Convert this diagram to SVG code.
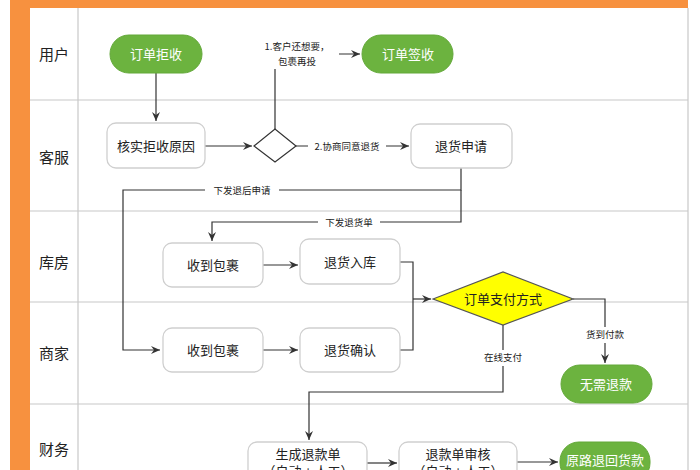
<svg xmlns="http://www.w3.org/2000/svg" width="700" height="470" viewBox="0 0 700 470">
<defs>
<marker id="ah" markerWidth="10" markerHeight="8" refX="9" refY="4" orient="auto" markerUnits="userSpaceOnUse">
<path d="M0,0 L9,4 L0,8 L3,4 Z" fill="#333"/>
</marker>
<style>
.lane{fill:none;stroke:#c8c8c8;stroke-width:1.2}
.lbl{font-family:"Noto Sans CJK SC","Noto Sans",sans-serif;font-size:15px;fill:#222;text-anchor:middle}
.box{fill:#fff;stroke:#cfcfcf;stroke-width:1.3}
.pill{fill:#6cb33f;stroke:#62a838;stroke-width:1}
.t{font-family:"Noto Sans CJK SC","Noto Sans",sans-serif;font-size:13px;fill:#222;text-anchor:middle}
.tw{font-family:"Noto Sans CJK SC","Noto Sans",sans-serif;font-size:13px;fill:#fff;text-anchor:middle}
.el{font-family:"Noto Sans CJK SC","Noto Sans",sans-serif;font-size:9.5px;fill:#222;text-anchor:middle}
.c{fill:none;stroke:#333;stroke-width:1.2}
.bg{fill:#fff}
</style>
</defs>
<rect x="0" y="0" width="700" height="470" fill="#fff"/>
<rect x="10" y="0" width="678" height="8" fill="#f7913f"/>
<rect x="10" y="0" width="20" height="470" fill="#f7913f"/>
<g id="lanes">
<line class="lane" x1="688" y1="8" x2="688" y2="470"/>
<line class="lane" x1="78" y1="8" x2="78" y2="470"/>
<line class="lane" x1="30" y1="100" x2="688" y2="100"/>
<line class="lane" x1="30" y1="211" x2="688" y2="211"/>
<line class="lane" x1="30" y1="302" x2="688" y2="302"/>
<line class="lane" x1="30" y1="404" x2="688" y2="404"/>
<text class="lbl" x="54" y="60">用户</text>
<text class="lbl" x="54" y="163">客服</text>
<text class="lbl" x="54" y="268">库房</text>
<text class="lbl" x="54" y="359">商家</text>
<text class="lbl" x="54" y="455">财务</text>
</g>
<g id="connectors">
<path class="c" d="M156,73 V121" marker-end="url(#ah)"/>
<path class="c" d="M205,146 H252" marker-end="url(#ah)"/>
<path class="c" d="M275,129 V54 H360" marker-end="url(#ah)"/>
<rect class="bg" x="255" y="37" width="84" height="32"/>
<text class="el" x="297" y="50">1.客户还想要，</text>
<text class="el" x="297" y="65">包裹再投</text>
<path class="c" d="M296,146 H409" marker-end="url(#ah)"/>
<rect class="bg" x="308" y="139" width="78" height="14"/>
<text class="el" x="347" y="149.5">2.协商同意退货</text>
<path class="c" d="M461,168 V190 H123 V350 H160" marker-end="url(#ah)"/>
<rect class="bg" x="205" y="183" width="74" height="14"/>
<text class="el" x="242" y="193.5">下发退后申请</text>
<path class="c" d="M461,190 V222 H212 V241" marker-end="url(#ah)"/>
<rect class="bg" x="318" y="215" width="62" height="14"/>
<text class="el" x="349" y="225.5">下发退货单</text>
<path class="c" d="M263,265 H298" marker-end="url(#ah)"/>
<path class="c" d="M263,350 H298" marker-end="url(#ah)"/>
<path class="c" d="M400,262 H413 V350 H400"/>
<path class="c" d="M413,299 H431" marker-end="url(#ah)"/>
<path class="c" d="M573,299 H605 V363" marker-end="url(#ah)"/>
<rect class="bg" x="582" y="327" width="46" height="16"/>
<text class="el" x="605" y="338">货到付款</text>
<path class="c" d="M503,325 V392 H309 V440" marker-end="url(#ah)"/>
<rect class="bg" x="480" y="350" width="46" height="16"/>
<text class="el" x="503" y="361">在线支付</text>
<path class="c" d="M367,463 H397" marker-end="url(#ah)"/>
<path class="c" d="M517,462 H558" marker-end="url(#ah)"/>
</g>
<g id="n_reject"><rect class="pill" x="110" y="35" width="92" height="38" rx="19"/><text class="tw" x="156" y="58.5">订单拒收</text></g>
<g id="n_sign"><rect class="pill" x="362" y="35" width="91" height="38" rx="19"/><text class="tw" x="408" y="58.5">订单签收</text></g>
<g id="n_check"><rect class="box" x="107" y="123" width="98" height="45" rx="9"/><text class="t" x="156" y="150.5">核实拒收原因</text></g>
<g id="n_d1"><polygon points="254,146 275,129 296,146 275,162" fill="#fff" stroke="#333" stroke-width="1.2"/></g>
<g id="n_apply"><rect class="box" x="411" y="124" width="101" height="44" rx="9"/><text class="t" x="461" y="150.5">退货申请</text></g>
<g id="n_recv1"><rect class="box" x="163" y="243" width="100" height="44" rx="9"/><text class="t" x="213" y="269.5">收到包裹</text></g>
<g id="n_stock"><rect class="box" x="300" y="239" width="100" height="45" rx="9"/><text class="t" x="350" y="266.5">退货入库</text></g>
<g id="n_pay"><polygon points="433,299 503,272 573,299 503,325" fill="#ffff00" stroke="#555" stroke-width="1.2"/><text class="t" x="503" y="303.5">订单支付方式</text></g>
<g id="n_recv2"><rect class="box" x="163" y="328" width="100" height="44" rx="9"/><text class="t" x="213" y="354.5">收到包裹</text></g>
<g id="n_confirm"><rect class="box" x="300" y="328" width="100" height="44" rx="9"/><text class="t" x="350" y="354.5">退货确认</text></g>
<g id="n_norefund"><rect class="pill" x="561" y="365" width="91" height="38" rx="19"/><text class="tw" x="606" y="388.5">无需退款</text></g>
<g id="n_gen"><rect class="box" x="248" y="442" width="119" height="45" rx="9"/><text class="t" x="308" y="458.5">生成退款单</text><text class="t" x="308" y="476">（自动 + 人工）</text></g>
<g id="n_audit"><rect class="box" x="399" y="442" width="118" height="45" rx="9"/><text class="t" x="458" y="458.5">退款单审核</text><text class="t" x="458" y="476">（自动 + 人工）</text></g>
<g id="n_back"><rect class="pill" x="560" y="442" width="90" height="40" rx="19"/><text class="tw" x="605" y="465">原路退回货款</text></g>
</svg>
